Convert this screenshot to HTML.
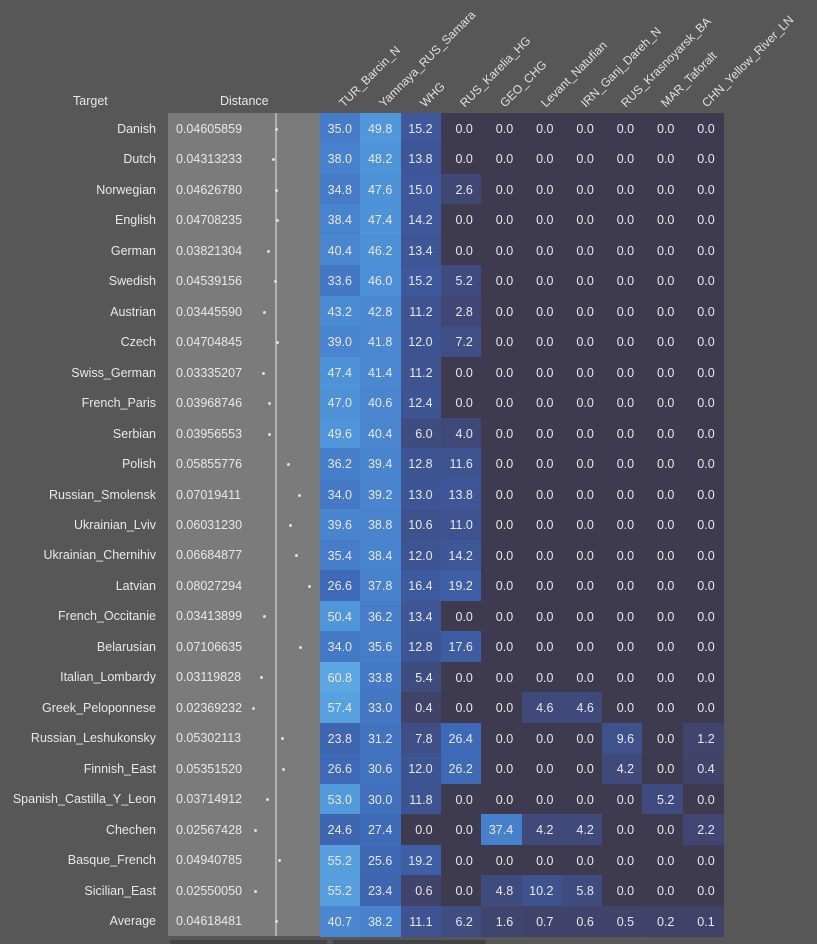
<!DOCTYPE html>
<html><head><meta charset="utf-8">
<style>
html,body{margin:0;padding:0;}
body{width:817px;height:944px;background:#575757;position:relative;overflow:hidden;font-family:"Liberation Sans",sans-serif;color:#e8e8e8;font-size:12.5px;}
.a{position:absolute;white-space:nowrap;}
.lbl{text-align:right;width:156px;left:0;}
.cell{position:absolute;width:41px;text-align:right;box-sizing:border-box;padding-right:9px;}
.hd{position:absolute;transform-origin:0 100%;transform:rotate(-45deg);white-space:nowrap;font-size:12px;color:#e0e0e0;}
.dot{position:absolute;width:3px;height:3px;border-radius:50%;background:#ddd;}
</style></head><body>
<div class="a" style="left:73px;top:94px;">Target</div>
<div class="a" style="left:220px;top:94px;">Distance</div>
<div class="a" style="left:168px;top:113px;width:152px;height:823px;background:#7b7b7b;"></div>
<div class="a" style="left:275px;top:113px;width:2px;height:823px;background:#b0b0b0;"></div>
<div class="a" style="left:170px;top:940px;width:157px;height:4px;background:#444;"></div>
<div class="a" style="left:333px;top:940px;width:153px;height:4px;background:#444;"></div>
<div id="root"></div>
<script>
var rows=[
["Danish","0.04605859",[35.0,49.8,15.2,0,0,0,0,0,0,0]],
["Dutch","0.04313233",[38.0,48.2,13.8,0,0,0,0,0,0,0]],
["Norwegian","0.04626780",[34.8,47.6,15.0,2.6,0,0,0,0,0,0]],
["English","0.04708235",[38.4,47.4,14.2,0,0,0,0,0,0,0]],
["German","0.03821304",[40.4,46.2,13.4,0,0,0,0,0,0,0]],
["Swedish","0.04539156",[33.6,46.0,15.2,5.2,0,0,0,0,0,0]],
["Austrian","0.03445590",[43.2,42.8,11.2,2.8,0,0,0,0,0,0]],
["Czech","0.04704845",[39.0,41.8,12.0,7.2,0,0,0,0,0,0]],
["Swiss_German","0.03335207",[47.4,41.4,11.2,0,0,0,0,0,0,0]],
["French_Paris","0.03968746",[47.0,40.6,12.4,0,0,0,0,0,0,0]],
["Serbian","0.03956553",[49.6,40.4,6.0,4.0,0,0,0,0,0,0]],
["Polish","0.05855776",[36.2,39.4,12.8,11.6,0,0,0,0,0,0]],
["Russian_Smolensk","0.07019411",[34.0,39.2,13.0,13.8,0,0,0,0,0,0]],
["Ukrainian_Lviv","0.06031230",[39.6,38.8,10.6,11.0,0,0,0,0,0,0]],
["Ukrainian_Chernihiv","0.06684877",[35.4,38.4,12.0,14.2,0,0,0,0,0,0]],
["Latvian","0.08027294",[26.6,37.8,16.4,19.2,0,0,0,0,0,0]],
["French_Occitanie","0.03413899",[50.4,36.2,13.4,0,0,0,0,0,0,0]],
["Belarusian","0.07106635",[34.0,35.6,12.8,17.6,0,0,0,0,0,0]],
["Italian_Lombardy","0.03119828",[60.8,33.8,5.4,0,0,0,0,0,0,0]],
["Greek_Peloponnese","0.02369232",[57.4,33.0,0.4,0,0,4.6,4.6,0,0,0]],
["Russian_Leshukonsky","0.05302113",[23.8,31.2,7.8,26.4,0,0,0,9.6,0,1.2]],
["Finnish_East","0.05351520",[26.6,30.6,12.0,26.2,0,0,0,4.2,0,0.4]],
["Spanish_Castilla_Y_Leon","0.03714912",[53.0,30.0,11.8,0,0,0,0,0,5.2,0]],
["Chechen","0.02567428",[24.6,27.4,0,0,37.4,4.2,4.2,0,0,2.2]],
["Basque_French","0.04940785",[55.2,25.6,19.2,0,0,0,0,0,0,0]],
["Sicilian_East","0.02550050",[55.2,23.4,0.6,0,4.8,10.2,5.8,0,0,0]],
["Average","0.04618481",[40.7,38.2,11.1,6.2,1.6,0.7,0.6,0.5,0.2,0.1]]];
var heads=["TUR_Barcin_N","Yamnaya_RUS_Samara","WHG","RUS_Karelia_HG","GEO_CHG","Levant_Natufian","IRN_Ganj_Dareh_N","RUS_Krasnoyarsk_BA","MAR_Taforalt","CHN_Yellow_River_LN"];
var stops=[[0,[62,59,80]],[0.1,[65,66,104]],[5,[63,75,125]],[15,[62,88,155]],[27,[62,106,183]],[38,[72,130,205]],[50,[80,150,218]],[61,[92,166,226]]];
function col(v){for(var i=1;i<stops.length;i++){if(v<=stops[i][0]){var a=stops[i-1],b=stops[i],t=(v-a[0])/(b[0]-a[0]);return "rgb("+a[1].map(function(x,k){return Math.round(x+(b[1][k]-x)*t)}).join(",")+")";}}return "rgb(92,166,226)";}
var h="";var RH=823/27;
heads.forEach(function(n,j){var x=346+j*40.3;h+='<div class="hd" style="left:'+x+'px;top:96px;">'+n+'</div>';});
rows.forEach(function(r,i){var top=113+i*RH;var ty=top+RH/2-6.5;
h+='<div class="a lbl" style="top:'+ty+'px;">'+r[0]+'</div>';
h+='<div class="a" style="left:176px;top:'+ty+'px;">'+r[1]+'</div>';
h+='<div class="dot" style="left:'+(229+parseFloat(r[1])*990)+'px;top:'+(top+RH/2-0.5)+'px;"></div>';
r[2].forEach(function(v,j){var x=320+j*40.3;h+='<div class="cell" style="left:'+x+'px;top:'+top+'px;height:'+(RH+0.6)+'px;width:41px;line-height:'+(RH+3)+'px;background:'+col(v)+';">'+v.toFixed(1)+'</div>';});
});
document.getElementById("root").innerHTML=h;
</script>
</body></html>
